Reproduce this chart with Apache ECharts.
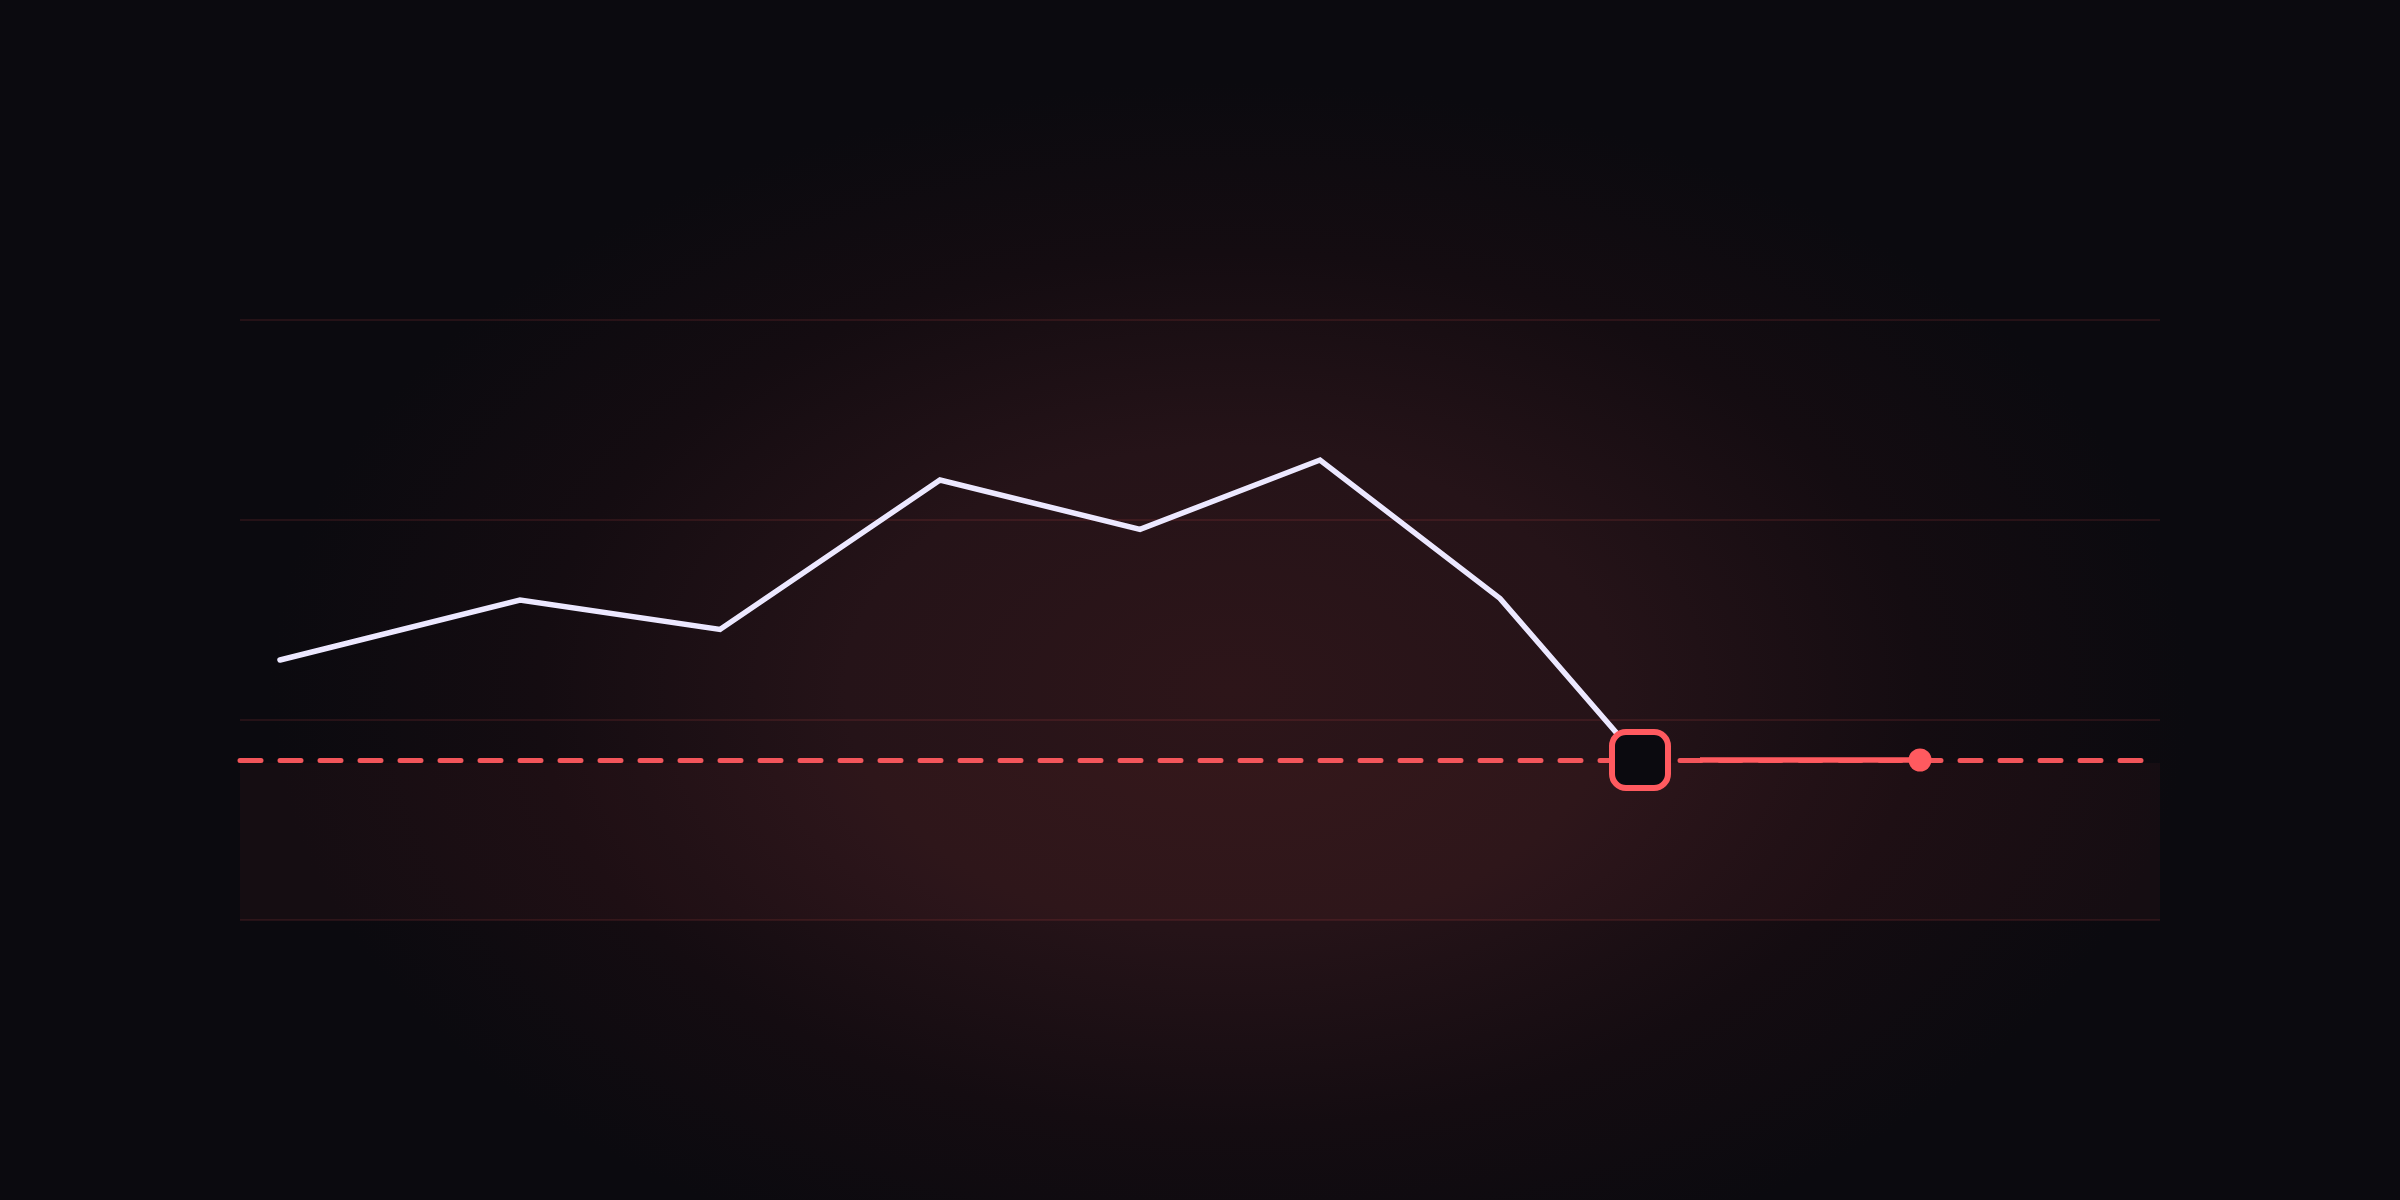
<!DOCTYPE html>
<html>
<head>
<meta charset="utf-8">
<style>
  html, body { margin: 0; padding: 0; background: #0b0a0f; }
  #chart { width: 2400px; height: 1200px; }
</style>
<script src="https://cdn.jsdelivr.net/npm/echarts@6/dist/echarts.min.js"></script>
</head>
<body>
<div id="chart"></div>
<script>
// ---- data ----
const xValues = [2, 14, 24, 35, 45, 54, 63, 70];
const yValues = [130, 160, 145.3, 220, 195.3, 230, 160.8, 80];
const projectionX = [73, 84];
const projectionY = [80, 80];
const thresholdValue = 80;
const bandRange = [0, 78.5];
const yTicks = [0, 100, 200, 300];

const RED = '#ff5a5f';
const LINE = '#ece8ff';
const BG = '#0b0a0f';

const mainData = xValues.map((x, i) => {
  const last = i === xValues.length - 1;
  return last
    ? { value: [x, yValues[i]], symbol: 'roundRect', symbolSize: 56,
        itemStyle: { color: BG, borderColor: RED, borderWidth: 6, opacity: 1 } }
    : { value: [x, yValues[i]], symbol: 'none' };
});
const projData = projectionX.map((x, i) => {
  const last = i === projectionX.length - 1;
  return last
    ? { value: [x, projectionY[i]], symbol: 'circle', symbolSize: 23,
        itemStyle: { color: RED, borderWidth: 0 } }
    : { value: [x, projectionY[i]], symbol: 'none' };
});

const chart = echarts.init(document.getElementById('chart'), null, { renderer: 'canvas' });
chart.setOption({
  backgroundColor: BG,
  animation: false,
  graphic: [{
    type: 'circle',
    silent: true,
    z: -10,
    x: 1230, y: 690,
    scaleX: 1.5, scaleY: 0.95,
    shape: { cx: 0, cy: 0, r: 640 },
    style: {
      fill: new echarts.graphic.RadialGradient(0.5, 0.5, 0.5, [
        { offset: 0, color: '#2d1519' },
        { offset: 0.4, color: '#251318' },
        { offset: 0.72, color: '#140c11' },
        { offset: 1, color: BG }
      ])
    }
  }],
  grid: { left: 240, right: 240, top: 320, bottom: 280, containLabel: false },
  xAxis: {
    type: 'value', min: 0, max: 96,
    show: true,
    axisLine: { show: false }, axisTick: { show: false }, axisLabel: { show: false },
    splitLine: { show: false }
  },
  yAxis: {
    type: 'value', min: yTicks[0], max: yTicks[yTicks.length - 1], interval: 100,
    axisLine: { show: false }, axisTick: { show: false }, axisLabel: { show: false },
    splitLine: { show: true, lineStyle: { color: 'rgba(255,90,95,0.11)', width: 2 } }
  },
  series: [
    {
      type: 'line',
      z: 1,
      data: projData,
      lineStyle: { color: RED, width: 5.5 },
      itemStyle: { color: RED },
      markLine: {
        z: 1,
        silent: true,
        symbol: 'none',
        label: { show: false },
        lineStyle: { color: RED, width: 5, type: [21, 19], cap: 'round', opacity: 0.95 },
        data: [{ yAxis: thresholdValue }]
      },
      markArea: {
        z: 0,
        silent: true,
        itemStyle: { color: 'rgba(255,90,95,0.045)' },
        data: [[{ yAxis: bandRange[0] }, { yAxis: bandRange[1] }]]
      }
    },
    {
      type: 'line',
      z: 3,
      data: mainData,
      showSymbol: true,
      lineStyle: { color: LINE, width: 5.5, cap: 'round', join: 'miter' },
      itemStyle: { color: LINE }
    }
  ]
});
</script>
</body>
</html>
